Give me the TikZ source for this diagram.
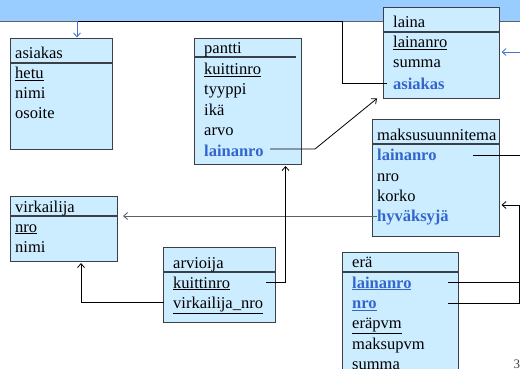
\documentclass[tikz,border=0pt]{standalone}
\usepackage{fontspec}
\setmainfont{Liberation Serif}
\usetikzlibrary{arrows.meta}
\definecolor{boxfill}{HTML}{CCECFF}
\definecolor{band}{HTML}{99CCFF}
\definecolor{keyblue}{HTML}{3366CC}
\definecolor{linkblue}{HTML}{4A72D6}
\definecolor{boxline}{HTML}{3A3F48}
\definecolor{grayline}{HTML}{606060}
\begin{document}
\begin{tikzpicture}[x=1pt,y=-1pt,
  tbl/.style={draw=boxline, line width=1.1pt, fill=boxfill, anchor=north west, inner sep=0pt},
  fld/.style={anchor=base west, inner sep=0pt, font=\fontsize{16.5}{20}\selectfont},
  fk/.style={anchor=base west, inner sep=0pt, text=keyblue, font=\fontsize{16.5}{20}\selectfont\bfseries},
  sepline/.style={draw=boxline, line width=1.1pt},
  conn/.style={draw=black, line width=0.8pt},
  tip/.style={-{Straight Barb[length=4pt,width=7pt]}}
]
\useasboundingbox (0,0) rectangle (520,369);
\clip (0,0) rectangle (520,369);
% top band
\fill[band] (0,0) rectangle (520,21);
\draw[grayline, line width=0.8pt] (0,21) -- (520,21);

% tables
\node[tbl, minimum width=102pt, minimum height=111pt] (asBox) at (10,38) {};
\node[tbl, minimum width=107pt, minimum height=126pt] (paBox) at (194,38) {};
\node[tbl, minimum width=116pt, minimum height=91pt] (laBox) at (383,7) {};
\node[tbl, minimum width=127pt, minimum height=117pt] (maBox) at (372,119) {};
\node[tbl, minimum width=107pt, minimum height=65pt] (viBox) at (10,196) {};
\node[tbl, minimum width=112pt, minimum height=75pt] (arBox) at (163,247) {};
\node[tbl, minimum width=116pt, minimum height=130pt] (erBox) at (342,252) {};

% separators
\draw[sepline] (10,63) -- (112,63);
\draw[sepline] (194,57) -- (296,57);
\draw[sepline] (383,32) -- (499,32);
\draw[sepline] (372,144) -- (499,144);
\draw[sepline] (10,216) -- (117,216);
\draw[sepline] (163,272) -- (275,272);
\draw[sepline] (342,272) -- (458,272);

% asiakas
\node[fld] (asT) at (15,59) {asiakas};
\node[fld] (asHetu) at (15,79) {\underline{hetu}};
\node[fld] (asNimi) at (15,99) {nimi};
\node[fld] (asOsoite) at (15,119) {osoite};

% pantti
\node[fld] (paT) at (204,54) {pantti};
\node[fld] (paKuitti) at (204,74.4) {\underline{kuittinro}};
\node[fld] (paTyyppi) at (204,94.8) {tyyppi};
\node[fld] (paIka) at (204,115.2) {ikä};
\node[fld] (paArvo) at (204,135.6) {arvo};
\node[fk] (paLaina) at (204,156) {lainanro};

% laina
\node[fld] (laT) at (393,28) {laina};
\node[fld] (laNro) at (393,48) {\underline{lainanro}};
\node[fld] (laSumma) at (393,68) {summa};
\node[fk] (laAs) at (393,89) {asiakas};

% maksusuunnitema
\node[fld] (maT) at (377,140) {maksusuunnitema};
\node[fk] (maLaina) at (377,160.5) {lainanro};
\node[fld] (maNro) at (377,181) {nro};
\node[fld] (maKorko) at (377,201.5) {korko};
\node[fk] (maHyv) at (377,221) {hyväksyjä};

% virkailija
\node[fld] (viT) at (15,212) {virkailija};
\node[fld] (viNro) at (15,232) {\underline{nro}};
\node[fld] (viNimi) at (15,252) {nimi};

% arvioija
\node[fld] (arT) at (173,268) {arvioija};
\node[fld] (arKuitti) at (173,288) {\underline{kuittinro}};
\node[fld] (arVirk) at (173,308) {\underline{virkailija\_nro}};

% erä
\node[fld] (erT) at (352,267.5) {erä};
\node[fk] (erLaina) at (352,288) {\underline{lainanro}};
\node[fk] (erNro) at (352,308.3) {\underline{nro}};
\node[fld] (erPvm) at (352,328.5) {\underline{eräpvm}};
\node[fld] (erMaksu) at (352,349) {maksupvm};
\node[fld] (erSumma) at (352,369.5) {summa};

% page number
\node[anchor=base west, inner sep=0pt, text=darkgray, font=\fontsize{13}{13}\selectfont] (pg) at (513.5,368) {3};

% connector coordinates
\coordinate (c1a) at (387,83);
\coordinate (c1b) at (342,83);
\coordinate (c1c) at (342,21);
\coordinate (c1d) at (77,21);
\coordinate (c1e) at (77,37.5);
\draw[conn] (c1a) -- (c1b) -- (c1c) -- (c1d);
\draw[linkblue, line width=0.9pt, tip] (c1d) -- (c1e);

\coordinate (c2a) at (270,149);
\coordinate (c2b) at (315,149);
\coordinate (c2c) at (377,98.5);
\draw[conn, tip] (c2a) -- (c2b) -- (c2c);

\coordinate (c3a) at (377,216);
\coordinate (c3b) at (123,216);
\draw[grayline, line width=0.9pt, tip] (c3a) -- (c3b);

\coordinate (c4a) at (266,282);
\coordinate (c4b) at (285.5,282);
\coordinate (c4c) at (285.5,166);
\draw[conn, tip] (c4a) -- (c4b) -- (c4c);

\coordinate (c5a) at (164,302);
\coordinate (c5b) at (81,302);
\coordinate (c5c) at (81,263);
\draw[conn, tip] (c5a) -- (c5b) -- (c5c);

\coordinate (c6a) at (473,155);
\coordinate (c6b) at (522,155);
\draw[conn] (c6a) -- (c6b);

\coordinate (c7a) at (448,282);
\coordinate (c7b) at (522,282);
\draw[conn] (c7a) -- (c7b);

\coordinate (c8a) at (448,303);
\coordinate (c8b) at (519,303);
\coordinate (c8c) at (519,205);
\coordinate (c8d) at (501.5,205);
\draw[conn, tip] (c8a) -- (c8b) -- (c8c) -- (c8d);

\coordinate (c9a) at (522,52);
\coordinate (c9b) at (501.5,52);
\draw[linkblue, line width=0.9pt, tip] (c9a) -- (c9b);
\end{tikzpicture}
\end{document}
